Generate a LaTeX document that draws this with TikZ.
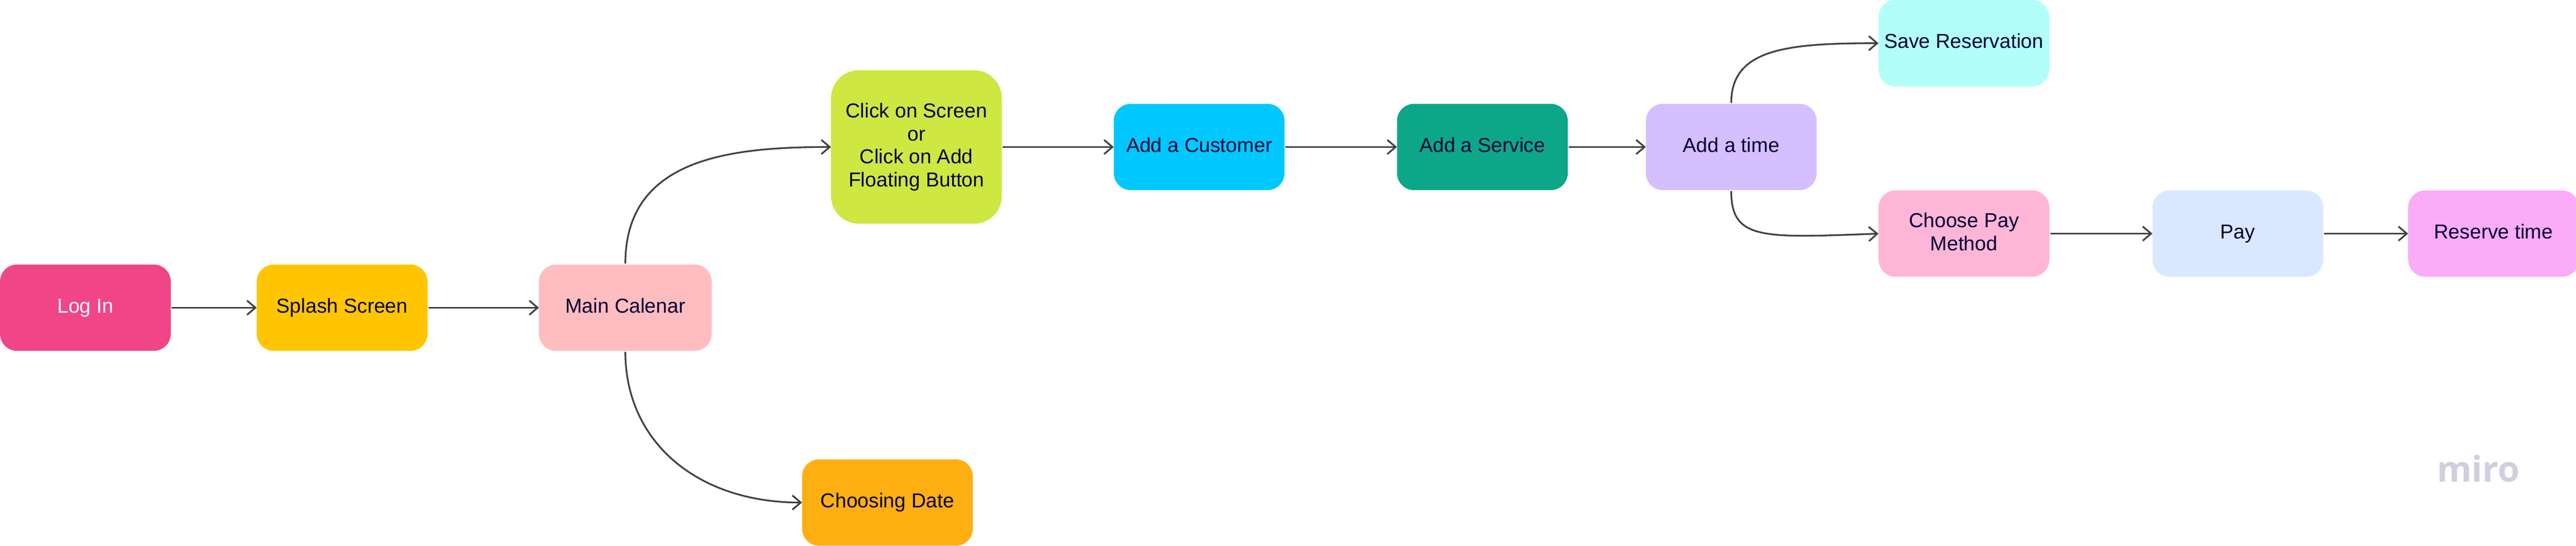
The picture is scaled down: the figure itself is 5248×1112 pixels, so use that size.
\documentclass[tikz,border=0pt]{standalone}
\usepackage{fontspec}
\setmainfont{Liberation Sans}
\newfontfamily\miroface{Open Sans}
\usetikzlibrary{arrows.meta}
\definecolor{inkc}{HTML}{050038}
\definecolor{linec}{HTML}{414141}
\definecolor{c1}{HTML}{F04586}
\definecolor{c2}{HTML}{FFC600}
\definecolor{c3}{HTML}{FFBDBF}
\definecolor{c4}{HTML}{CEE741}
\definecolor{c5}{HTML}{FFAF11}
\definecolor{c6}{HTML}{00C8FF}
\definecolor{c7}{HTML}{0CA789}
\definecolor{c8}{HTML}{D5BFFF}
\definecolor{c9}{HTML}{B2FFF9}
\definecolor{c10}{HTML}{FFB6D6}
\definecolor{c11}{HTML}{DAE8FF}
\definecolor{c12}{HTML}{FBACF7}
\definecolor{miroc}{HTML}{D0CFDD}
\tikzset{
  flowbox/.style={minimum width=3.48cm,minimum height=1.76cm,inner sep=0pt,outer sep=0pt,
    rounded corners=0.35cm,align=center,text=inkc,font=\fontsize{11.7}{13.4}\selectfont,
    execute at begin node=\vphantom{l},execute at end node=\vphantom{g}},
  bigbox/.style={flowbox,minimum height=3.13cm,rounded corners=0.57cm},
  flow/.style={draw=linec,line width=0.35mm,shorten <=0.2mm,
    -{Straight Barb[length=1.7mm,width=2.9mm]}},
}
\begin{document}
\begin{tikzpicture}[x=0.1mm,y=-0.1mm]
\useasboundingbox (0,0) rectangle (5248,1112);
\node[flowbox,fill=c1,text=white] (login) at (174,627) {Log In};
\node[flowbox,fill=c2] (splash) at (697,627) {Splash Screen};
\node[flowbox,fill=c3,minimum width=3.52cm] (main) at (1274,627) {Main Calenar};
\node[bigbox,fill=c4] (click) at (1867,299.5) {Click on Screen\\or\\Click on Add\\Floating Button};
\node[flowbox,fill=c5] (date) at (1808,1024) {Choosing Date};
\node[flowbox,fill=c6] (cust) at (2443,299.5) {Add a Customer};
\node[flowbox,fill=c7] (serv) at (3020,299.5) {Add a Service};
\node[flowbox,fill=c8] (time) at (3527,299.5) {Add a time};
\node[flowbox,fill=c9] (save) at (4001,88) {Save Reservation};
\node[flowbox,fill=c10] (paym) at (4001,476) {Choose Pay\\Method};
\node[flowbox,fill=c11] (pay) at (4559,476) {Pay};
\node[flowbox,fill=c12] (res) at (5080,476) {Reserve time};
\node[text=miroc,inner sep=0pt,font=\miroface\bfseries\fontsize{20.5}{22}\selectfont] (logo) at (5049,955) {miro};
\draw[flow] (login) -- (splash);
\draw[flow] (splash) -- (main);
\draw[flow] (main.north) .. controls +(0,-215) and +(-210,0) .. (click.west);
\draw[flow] (main.south) .. controls +(0,185) and +(-214,0) .. (date.west);
\draw[flow] (click) -- (cust);
\draw[flow] (cust) -- (serv);
\draw[flow] (serv) -- (time);
\draw[flow] (time.north) .. controls +(0,-112) and +(-187,0) .. (save.west);
\draw[flow] (time.south) .. controls +(0,102) and +(-237,9) .. (paym.west);
\draw[flow] (paym) -- (pay);
\draw[flow] (pay) -- (res);
\end{tikzpicture}
\end{document}
